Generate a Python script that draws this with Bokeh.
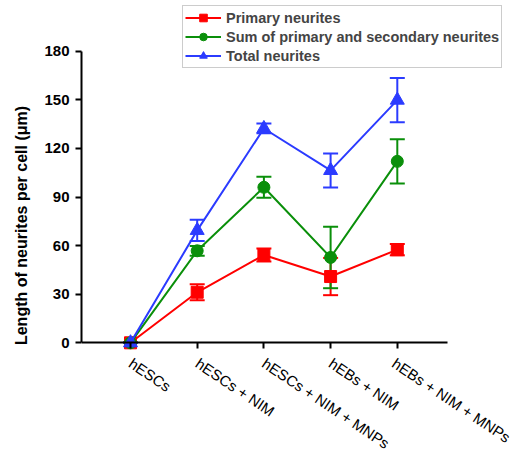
from bokeh.plotting import figure
from bokeh.models import (Range1d, FixedTicker, Whisker, TeeHead, ColumnDataSource,
                          Legend, LegendItem)
from bokeh.embed import file_html
from bokeh.resources import INLINE

categories = ["hESCs", "hESCs + NIM", "hESCs + NIM + MNPs", "hEBs + NIM", "hEBs + NIM + MNPs"]
primary = [0, 31.2, 54.2, 40.9, 57.5]
primary_err = [0, 5.0, 4.0, 11.5, 3.5]
sum_ps = [0, 56.8, 96.0, 52.7, 112.0]
sum_ps_err = [0, 3.0, 6.5, 19.0, 13.7]
total = [0, 69.4, 132.3, 106.4, 149.8]
total_err = [0, 6.5, 3.0, 10.5, 13.7]
y_ticks = [0, 30, 60, 90, 120, 150, 180]

series = [
    ("Primary neurites", primary, primary_err, "#FF0000", "square", 12),
    ("Sum of primary and secondary neurites", sum_ps, sum_ps_err, "#0A8F0A", "circle", 12),
    ("Total neurites", total, total_err, "#2B3BFF", "triangle", 14),
]

# layout constants (pixels)
W, H = 513, 450
left = 81
cat0_px = 130.0     # pixel column of first category
xppu = 66.7         # pixels per category step
y0_px = 342.3       # pixel row of y=0
ppu = 1.62          # pixels per y unit
x_start = -(cat0_px - left) / xppu
x_end = x_start + (W - left) / xppu

p = figure(width=W, height=H, output_backend="svg", toolbar_location=None,
           x_range=Range1d(x_start, x_end),
           y_range=Range1d(-(H - y0_px) / ppu, y0_px / ppu),
           min_border_left=left, min_border_right=0, min_border_top=0, min_border_bottom=0)
p.outline_line_color = None
p.xgrid.visible = False
p.ygrid.visible = False
p.background_fill_color = "white"

xs = list(range(len(categories)))
items = []
for name, vals, errs, col, mk, sz in series:
    src = ColumnDataSource(dict(x=xs, y=vals,
                                lo=[v - e for v, e in zip(vals, errs)],
                                hi=[v + e for v, e in zip(vals, errs)]))
    w = Whisker(base="x", lower="lo", upper="hi", source=src,
                line_color=col, line_width=2,
                upper_head=TeeHead(size=15, line_color=col, line_width=2),
                lower_head=TeeHead(size=15, line_color=col, line_width=2))
    p.add_layout(w)
    r1 = p.line("x", "y", source=src, line_color=col, line_width=2)
    r2 = p.scatter("x", "y", source=src, marker=mk, size=sz, fill_color=col, line_color=col)
    items.append(LegendItem(label=name, renderers=[r1, r2]))

legend = Legend(items=items, location=(101, 382), padding=2, margin=0, spacing=0,
                label_height=19, glyph_height=19, glyph_width=36, label_standoff=5,
                label_text_font="Liberation Sans", label_text_font_style="bold",
                label_text_font_size="14.5px", border_line_color="#999999", border_line_width=1,
                background_fill_alpha=1.0)
p.add_layout(legend)

p.yaxis.ticker = FixedTicker(ticks=y_ticks)
p.yaxis.bounds = (y_ticks[0], y_ticks[-1])
p.xaxis.ticker = FixedTicker(ticks=xs)
p.xaxis.fixed_location = 0
p.xaxis.bounds = (x_start, len(categories) - 0.25)
p.xaxis.major_label_overrides = {i: c for i, c in enumerate(categories)}
p.xaxis.major_label_orientation = -0.59
p.xaxis.minor_tick_line_color = None
p.yaxis.minor_tick_line_color = None

for ax in (p.xaxis[0], p.yaxis[0]):
    ax.axis_line_width = 2
    ax.axis_line_color = "black"
    ax.major_tick_line_width = 2
    ax.major_tick_line_color = "black"
    ax.major_tick_out = 6
    ax.major_tick_in = 0

p.yaxis.major_label_text_font = "Liberation Sans"
p.yaxis.major_label_text_font_style = "bold"
p.yaxis.major_label_text_font_size = "15px"
p.yaxis.major_label_text_color = "black"
p.yaxis.major_label_standoff = 6
p.yaxis.axis_label = "Length of neurites per cell (μm)"
p.yaxis.axis_label_text_font = "Liberation Sans"
p.yaxis.axis_label_text_font_style = "bold"
p.yaxis.axis_label_text_font_size = "16px"
p.yaxis.axis_label_text_color = "black"
p.yaxis.axis_label_standoff = 11

p.xaxis.major_label_text_font = "Liberation Sans"
p.xaxis.major_label_text_font_style = "normal"
p.xaxis.major_label_text_font_size = "15px"
p.xaxis.major_label_text_color = "black"
p.xaxis.major_label_standoff = 13

open("out.html", "w").write(file_html(p, INLINE))
